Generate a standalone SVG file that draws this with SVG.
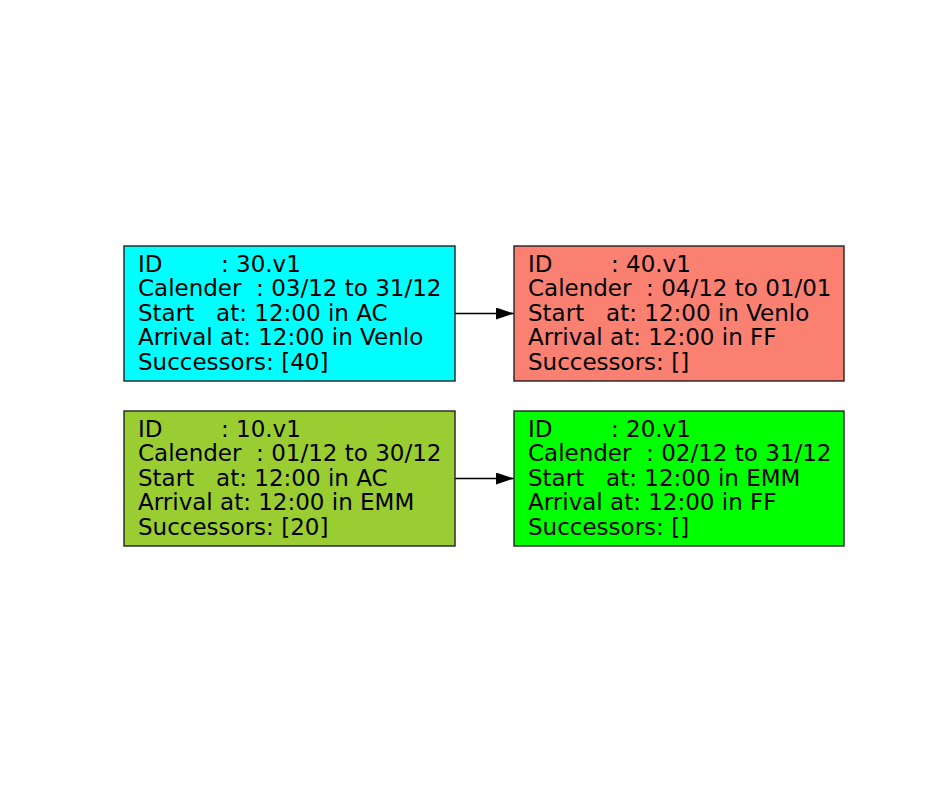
<svg xmlns="http://www.w3.org/2000/svg" width="944" height="787" viewBox="0 0 944 787">
<style>
.box{stroke:#222;stroke-width:1.4}
text{font-family:"DejaVu Sans",Verdana,sans-serif;font-size:23px;fill:#000;white-space:pre}
.edge{stroke:#000;stroke-width:1.4;fill:none}
</style>
<defs>
<marker id="arr" markerWidth="18" markerHeight="12" refX="18" refY="6" orient="auto" markerUnits="userSpaceOnUse">
<path d="M0,0 L18,6 L0,12 Z" fill="#000"/>
</marker>
</defs>
<rect width="944" height="787" fill="#fff"/>
<g id="connectors">
<path class="edge" d="M455,313.5 L514,313.5" marker-end="url(#arr)"/>
<path class="edge" d="M455,478.5 L514,478.5" marker-end="url(#arr)"/>
</g>
<g id="node30">
<rect class="box" x="124" y="246" width="331" height="135" fill="#00ffff"/>
<text xml:space="preserve" x="138" y="271.5">ID        : 30.v1</text>
<text xml:space="preserve" x="138" y="296">Calender  : 03/12 to 31/12</text>
<text xml:space="preserve" x="138" y="320.5">Start   at: 12:00 in AC</text>
<text xml:space="preserve" x="138" y="345">Arrival at: 12:00 in Venlo</text>
<text xml:space="preserve" x="138" y="369.5">Successors: [40]</text>
</g>
<g id="node40">
<rect class="box" x="514" y="246" width="330" height="135" fill="#fa8072"/>
<text xml:space="preserve" x="528" y="271.5">ID        : 40.v1</text>
<text xml:space="preserve" x="528" y="296">Calender  : 04/12 to 01/01</text>
<text xml:space="preserve" x="528" y="320.5">Start   at: 12:00 in Venlo</text>
<text xml:space="preserve" x="528" y="345">Arrival at: 12:00 in FF</text>
<text xml:space="preserve" x="528" y="369.5">Successors: []</text>
</g>
<g id="node10">
<rect class="box" x="124" y="411" width="331" height="135" fill="#9acd32"/>
<text xml:space="preserve" x="138" y="436.5">ID        : 10.v1</text>
<text xml:space="preserve" x="138" y="461">Calender  : 01/12 to 30/12</text>
<text xml:space="preserve" x="138" y="485.5">Start   at: 12:00 in AC</text>
<text xml:space="preserve" x="138" y="510">Arrival at: 12:00 in EMM</text>
<text xml:space="preserve" x="138" y="534.5">Successors: [20]</text>
</g>
<g id="node20">
<rect class="box" x="514" y="411" width="330" height="135" fill="#00ff00"/>
<text xml:space="preserve" x="528" y="436.5">ID        : 20.v1</text>
<text xml:space="preserve" x="528" y="461">Calender  : 02/12 to 31/12</text>
<text xml:space="preserve" x="528" y="485.5">Start   at: 12:00 in EMM</text>
<text xml:space="preserve" x="528" y="510">Arrival at: 12:00 in FF</text>
<text xml:space="preserve" x="528" y="534.5">Successors: []</text>
</g>
</svg>
